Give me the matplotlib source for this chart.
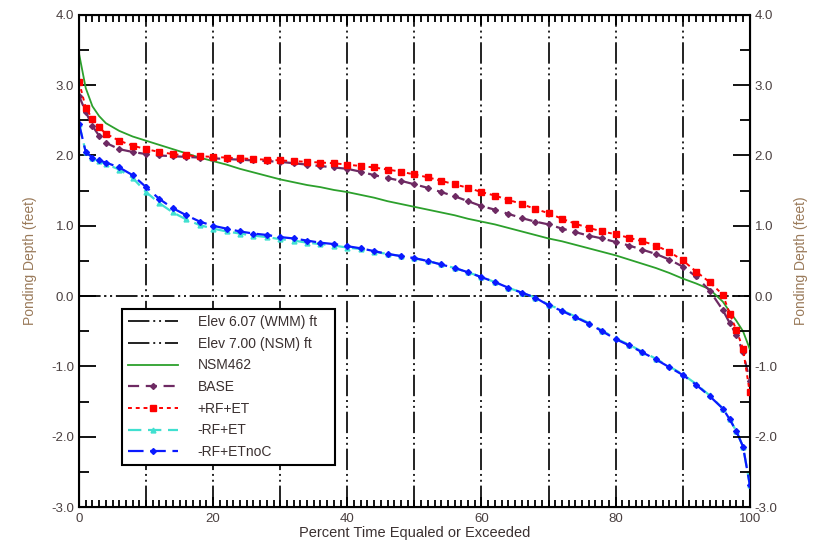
import matplotlib
matplotlib.use("Agg")
import matplotlib.pyplot as plt
from matplotlib.ticker import MultipleLocator

plt.rcParams['font.family'] = ['Liberation Sans', 'DejaVu Sans']

# percent time equaled or exceeded
pct = [0, 1, 2, 3, 4, 6, 8, 10, 12, 14, 16, 18, 20, 22, 24, 26, 28, 30, 32, 34, 36, 38,
       40, 42, 44, 46, 48, 50, 52, 54, 56, 58, 60, 62, 64, 66, 68, 70, 72, 74, 76, 78,
       80, 82, 84, 86, 88, 90, 92, 94, 96, 97, 98, 99, 100]

nsm462 = [3.45, 2.96, 2.70, 2.56, 2.46, 2.35, 2.27, 2.21, 2.15, 2.09, 2.03, 1.97, 1.92,
          1.87, 1.81, 1.76, 1.71, 1.66, 1.62, 1.58, 1.55, 1.51, 1.48, 1.44, 1.40, 1.35,
          1.31, 1.27, 1.23, 1.19, 1.15, 1.10, 1.06, 1.02, 0.97, 0.92, 0.87, 0.82, 0.78,
          0.73, 0.68, 0.63, 0.58, 0.52, 0.46, 0.40, 0.33, 0.25, 0.18, 0.10, -0.08, -0.22,
          -0.35, -0.50, -0.75]

base = [2.85, 2.62, 2.42, 2.28, 2.18, 2.09, 2.05, 2.02, 2.00, 1.99, 1.98, 1.97, 1.96,
        1.95, 1.94, 1.93, 1.92, 1.91, 1.89, 1.87, 1.85, 1.83, 1.81, 1.77, 1.72, 1.68,
        1.64, 1.59, 1.54, 1.48, 1.42, 1.35, 1.28, 1.23, 1.17, 1.11, 1.06, 1.02, 0.96,
        0.91, 0.86, 0.82, 0.77, 0.72, 0.66, 0.60, 0.52, 0.42, 0.28, 0.08, -0.20, -0.38,
        -0.55, -0.80, -1.20]

rf_et_plus = [3.05, 2.68, 2.52, 2.40, 2.31, 2.21, 2.14, 2.09, 2.05, 2.02, 2.00, 1.99,
              1.98, 1.97, 1.96, 1.95, 1.94, 1.93, 1.92, 1.91, 1.90, 1.89, 1.87, 1.85,
              1.83, 1.80, 1.77, 1.73, 1.69, 1.64, 1.59, 1.54, 1.48, 1.43, 1.37, 1.31,
              1.24, 1.18, 1.10, 1.03, 0.97, 0.92, 0.88, 0.83, 0.78, 0.72, 0.63, 0.51,
              0.35, 0.20, 0.02, -0.25, -0.48, -0.75, -1.37]

rf_et_minus = [2.45, 2.05, 1.96, 1.92, 1.88, 1.80, 1.68, 1.48, 1.32, 1.19, 1.09, 1.01,
               0.96, 0.92, 0.89, 0.86, 0.84, 0.81, 0.79, 0.76, 0.74, 0.72, 0.69, 0.67,
               0.63, 0.60, 0.57, 0.54, 0.50, 0.45, 0.40, 0.34, 0.27, 0.20, 0.12, 0.05,
               -0.02, -0.12, -0.20, -0.29, -0.38, -0.49, -0.60, -0.69, -0.79, -0.89,
               -1.00, -1.11, -1.25, -1.41, -1.60, -1.75, -1.92, -2.14, -2.68]

rf_etnoc = [2.45, 2.05, 1.97, 1.93, 1.90, 1.83, 1.72, 1.55, 1.38, 1.25, 1.15, 1.06, 1.00,
            0.96, 0.92, 0.89, 0.87, 0.84, 0.82, 0.79, 0.76, 0.74, 0.71, 0.68, 0.64,
            0.60, 0.57, 0.54, 0.50, 0.45, 0.40, 0.34, 0.27, 0.20, 0.12, 0.05, -0.02,
            -0.13, -0.21, -0.30, -0.39, -0.50, -0.61, -0.70, -0.80, -0.90, -1.01, -1.12,
            -1.26, -1.42, -1.60, -1.75, -1.92, -2.14, -2.68]

elev_wmm = 0.0
elev_nsm = 0.0

fig = plt.figure(figsize=(8.23, 5.5), dpi=100)
ax = fig.add_axes([0.096, 0.078, 0.815, 0.895])

ddd = (0, (11, 2, 1, 2, 1, 2))
for gx in range(10, 100, 10):
    ax.axvline(gx, color='#222222', lw=1.4, ls=ddd, zorder=1)

ax.axhline(elev_wmm, color='#222222', lw=1.4, ls=ddd, label='Elev 6.07 (WMM) ft', zorder=1)
ax.axhline(elev_nsm, color='#222222', lw=1.4, ls=ddd, label='Elev 7.00 (NSM) ft', zorder=1)

ax.plot(pct, nsm462, color='#2ca02c', lw=1.3, label='NSM462', zorder=3)
ax.plot(pct, base, color='#6e2a63', lw=1.6, ls=(0, (5, 3)), marker='D', ms=3,
        label='BASE', zorder=3)
ax.plot(pct, rf_et_plus, color='#ff0000', lw=1.4, ls=(0, (2, 2)), marker='s', ms=5,
        label='+RF+ET', zorder=4)
ax.plot(pct, rf_et_minus, color='#40e0d0', lw=1.6, ls=(0, (6, 3)), marker='^', ms=3.5,
        label='-RF+ET', zorder=3)
ax.plot(pct, rf_etnoc, color='#0a1aff', lw=1.6, ls=(0, (7, 3)), marker='D', ms=3,
        label='-RF+ETnoC', zorder=4)

ax.set_xlim(0, 100)
ax.set_ylim(-3, 4)
ax.xaxis.set_major_locator(MultipleLocator(20))
ax.xaxis.set_minor_locator(MultipleLocator(1))
ax.yaxis.set_major_locator(MultipleLocator(1))
ax.yaxis.set_minor_locator(MultipleLocator(0.5))

tick_col = '#4a4040'
ax.tick_params(which='both', direction='in', top=True, right=False, colors='black',
               labelcolor=tick_col, labelsize=9.5, width=1.3)
ax.tick_params(axis='x', which='major', length=7, pad=4)
ax.tick_params(axis='x', which='minor', length=5)
ax.tick_params(axis='y', which='major', length=12)
ax.tick_params(axis='y', which='minor', length=7)
ax.yaxis.set_major_formatter(matplotlib.ticker.FormatStrFormatter('%.1f'))
for s in ax.spines.values():
    s.set_linewidth(1.5)

ax2 = ax.twinx()
ax2.set_ylim(-3, 4)
ax2.yaxis.set_major_locator(MultipleLocator(1))
ax2.yaxis.set_minor_locator(MultipleLocator(0.5))
ax2.yaxis.set_major_formatter(matplotlib.ticker.FormatStrFormatter('%.1f'))
ax2.tick_params(which='both', direction='in', labelcolor=tick_col, labelsize=9.5, width=1.3)
ax2.tick_params(which='major', length=12)
ax2.tick_params(which='minor', length=7)

lab_col = '#9a7a5a'
ax.set_ylabel('Ponding Depth (feet)', color=lab_col, fontsize=10, labelpad=10)
ax2.set_ylabel('Ponding Depth (feet)', color=lab_col, fontsize=10, rotation=90, labelpad=12)
ax.set_xlabel('Percent Time Equaled or Exceeded', color='#3a3030', fontsize=10.5, labelpad=1)

leg = ax.legend(loc='lower left', bbox_to_anchor=(0.064, 0.085, 0.318, 0.315), mode='expand',
                borderaxespad=0, fontsize=10, fancybox=False, framealpha=1,
                edgecolor='black', borderpad=0.45, labelspacing=0.55, handlelength=3.6,
                handletextpad=1.4)
leg.get_frame().set_linewidth(1.5)
for t in leg.get_texts():
    t.set_color('#3a3030')

fig.savefig('out.png', dpi=100)
